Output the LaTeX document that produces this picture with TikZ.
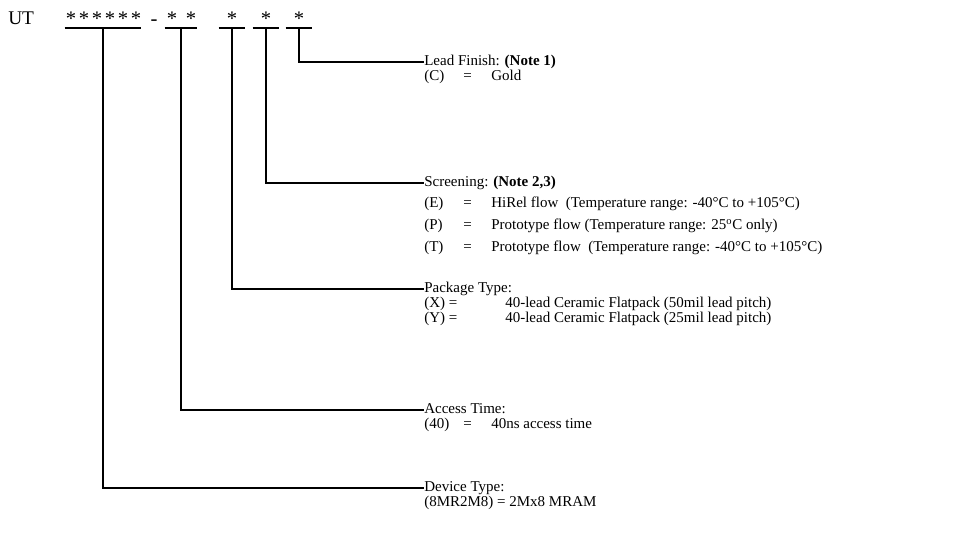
\documentclass[tikz,border=0pt]{standalone}
\usepackage{fontspec}
\setmainfont{Liberation Serif}
\usetikzlibrary{positioning}
\tikzset{
  leg/.style={line width=1.5pt},
  stern/.style={inner sep=0pt,anchor=base,font=\fontsize{15.5}{17}\selectfont},
  balken/.style={inner sep=0pt,minimum height=0pt,minimum width=#1},
  titel/.style={inner sep=0pt,anchor=west,font=\fontsize{11.25}{11.25}\selectfont},
  liste/.style={inner sep=0pt,align=left,font=\fontsize{11.25}{11.25}\selectfont}
}
\newcommand{\zeile}[2]{\makebox[29.25pt][l]{#1}\makebox[21pt][l]{=}#2}

\begin{document}
\begin{tikzpicture}[x=0.75pt,y=-0.75pt]
\useasboundingbox (0,0) rectangle (975,543);
% part number
\node[inner sep=0pt,anchor=base west,font=\fontsize{14.5}{16}\selectfont] (ut) at (8,24) {UT};
\foreach \x/\n in {71/a,84/b,97/c,110/d,123/e,136/f,172/g,191/h,232/i,266/j,299/k}
  \node[stern] (s\n) at (\x,25) {*};
\node[stern] (strich) at (154,25) {-};
% underlines
\node[balken=57pt] (g1) at (103,28) {};
\node[balken=24pt] (g2) at (181,28) {};
\node[balken=19.5pt] (g3) at (232,28) {};
\node[balken=19.5pt] (g4) at (266,28) {};
\node[balken=19.5pt] (g5) at (299,28) {};
\foreach \g in {1,...,5}
  \draw[leg] (g\g.west) -- (g\g.east);
% fields
\node[titel] (t5) at (424,62) {\strut Lead Finish: \textbf{(Note 1)}};
\node[liste,below right=0pt and 0pt of t5.south west] (d5) {\strut\zeile{(C)}{Gold}};
\node[titel] (t4) at (424,183) {\strut Screening: \textbf{(Note 2,3)}};
\node[liste,below right=4.5pt and 0pt of t4.south west] (d4) {%
  \strut\zeile{(E)}{HiRel flow\ \ (Temperature range: -40°C to +105°C)}\\[4.1pt]
  \strut\zeile{(P)}{Prototype flow (Temperature range: 25\textsuperscript{o}C only)}\\[4.1pt]
  \strut\zeile{(T)}{Prototype flow\ \ (Temperature range: -40°C to +105°C)}};
\node[titel] (t3) at (424,289) {\strut Package Type:};
\node[liste,below right=0pt and 0pt of t3.south west] (d3) {%
  \strut\makebox[60.75pt][l]{(X) =}40-lead Ceramic Flatpack (50mil lead pitch)\\
  \strut\makebox[60.75pt][l]{(Y) =}40-lead Ceramic Flatpack (25mil lead pitch)};
\node[titel] (t2) at (424,410) {\strut Access Time:};
\node[liste,below right=0pt and 0pt of t2.south west] (d2) {\strut\zeile{(40)}{40ns access time}};
\node[titel] (t1) at (424,488) {\strut Device Type:};
\node[liste,below right=0pt and 0pt of t1.south west] (d1) {\strut (8MR2M8) = 2Mx8 MRAM};
% connectors
\foreach \g in {1,...,5}
  \draw[leg] (g\g.south) |- (t\g.west);
\end{tikzpicture}
\end{document}
